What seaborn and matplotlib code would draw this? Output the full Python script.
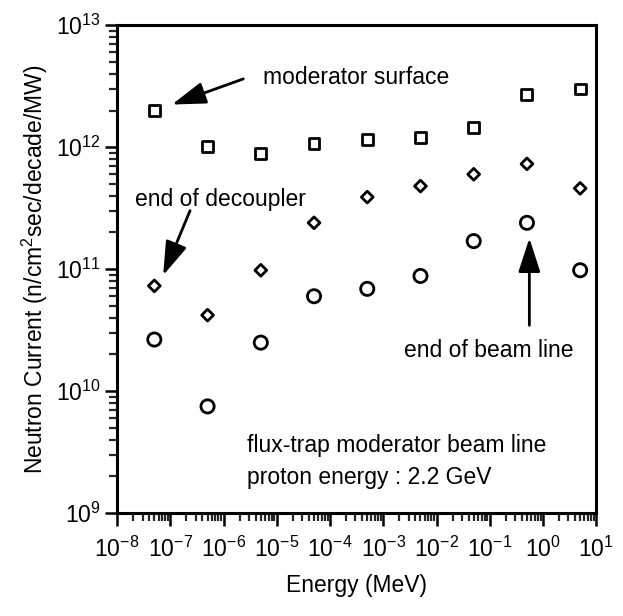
import numpy as np
import pandas as pd
import matplotlib
matplotlib.use("Agg")
import matplotlib.pyplot as plt
import matplotlib.ticker as mticker
import seaborn as sns

# energy bins (MeV) and neutron current per position (n/cm2/sec/decade/MW)
energy = [5e-8, 5e-7, 5e-6, 5e-5, 5e-4, 5e-3, 5e-2, 5e-1, 5e0]
moderator_surface = [2.0e12, 1.02e12, 8.9e11, 1.07e12, 1.16e12, 1.2e12, 1.45e12, 2.7e12, 3.0e12]
end_of_decoupler = [7.3e10, 4.2e10, 9.8e10, 2.4e11, 3.9e11, 4.8e11, 6.0e11, 7.3e11, 4.6e11]
end_of_beam_line = [2.65e10, 7.5e9, 2.5e10, 6.0e10, 6.9e10, 8.8e10, 1.7e11, 2.4e11, 9.8e10]

sns.set_style("ticks")
plt.rcParams['font.family'] = ['Liberation Sans', 'DejaVu Sans']
plt.rcParams['mathtext.fontset'] = 'custom'
plt.rcParams['mathtext.rm'] = 'Liberation Sans'
plt.rcParams['text.color'] = 'black'
plt.rcParams['axes.labelcolor'] = 'black'

df = pd.DataFrame({
    'energy': energy * 3,
    'current': moderator_surface + end_of_decoupler + end_of_beam_line,
    'position': ['surface'] * 9 + ['decoupler'] * 9 + ['beam'] * 9,
})

fig = plt.figure(figsize=(6.23, 6.16), dpi=100)
ax = fig.add_axes([0.188, 0.167, 0.769, 0.792])

styles = {'surface': ('s', 62), 'decoupler': ('D', 36), 'beam': ('o', 90)}
for pos, (mk, size) in styles.items():
    sub = df[df['position'] == pos]
    sns.scatterplot(data=sub, x='energy', y='current', marker=mk, s=size,
                    facecolors='none', edgecolor='black', linewidth=2.0,
                    ax=ax, legend=False, zorder=3)

ax.set_xscale('log')
ax.set_yscale('log')
ax.set_xlim(1e-8, 1e1)
ax.set_ylim(1e9, 1e13)

ax.xaxis.set_major_locator(mticker.LogLocator(base=10, numticks=20))
ax.xaxis.set_minor_locator(mticker.LogLocator(base=10, subs=np.arange(2, 10), numticks=20))
ax.yaxis.set_major_locator(mticker.LogLocator(base=10, numticks=20))
ax.yaxis.set_minor_locator(mticker.LogLocator(base=10, subs=np.arange(2, 10), numticks=20))
ax.xaxis.set_minor_formatter(mticker.NullFormatter())
ax.yaxis.set_minor_formatter(mticker.NullFormatter())

for side in ['left', 'bottom', 'top', 'right']:
    ax.spines[side].set_linewidth(2.2)
    ax.spines[side].set_color('black')
ax.tick_params(which='major', direction='out', length=9, width=1.8, labelsize=16.5, colors='black')
ax.tick_params(which='minor', direction='out', length=6, width=1.6)
ax.tick_params(axis='x', which='major', pad=8)
ax.tick_params(axis='y', which='major', pad=3)

ax.set_xlabel('Energy (MeV)', fontsize=16.5, labelpad=9)
ax.set_ylabel('Neutron Current (n/cm$^2$sec/decade/MW)', fontsize=16.5, labelpad=4)

arrow = dict(arrowstyle='-|>,head_length=0.8,head_width=0.26', lw=2.0, color='black',
             mutation_scale=26, shrinkA=0, shrinkB=0)

ax.text(10**-5.26, 10**12.57, 'moderator surface', fontsize=16.5, ha='left', va='center')
ax.annotate('', xy=(10**-6.97, 10**12.35), xytext=(10**-5.63, 10**12.56), arrowprops=arrow)

ax.text(10**-7.66, 10**11.57, 'end of decoupler', fontsize=16.5, ha='left', va='center')
ax.annotate('', xy=(10**-7.135, 10**10.95), xytext=(10**-6.63, 10**11.48), arrowprops=arrow)

ax.text(10**0.57, 10**10.336, 'end of beam line', fontsize=16.5, ha='right', va='center')
ax.annotate('', xy=(10**-0.256, 10**11.254), xytext=(10**-0.256, 10**10.54), arrowprops=arrow)

ax.text(10**-5.56, 10**9.557, 'flux-trap moderator beam line', fontsize=16.5, ha='left', va='center')
ax.text(10**-5.56, 10**9.295, 'proton energy : 2.2 GeV', fontsize=16.5, ha='left', va='center')

fig.savefig('out.png', dpi=100)
